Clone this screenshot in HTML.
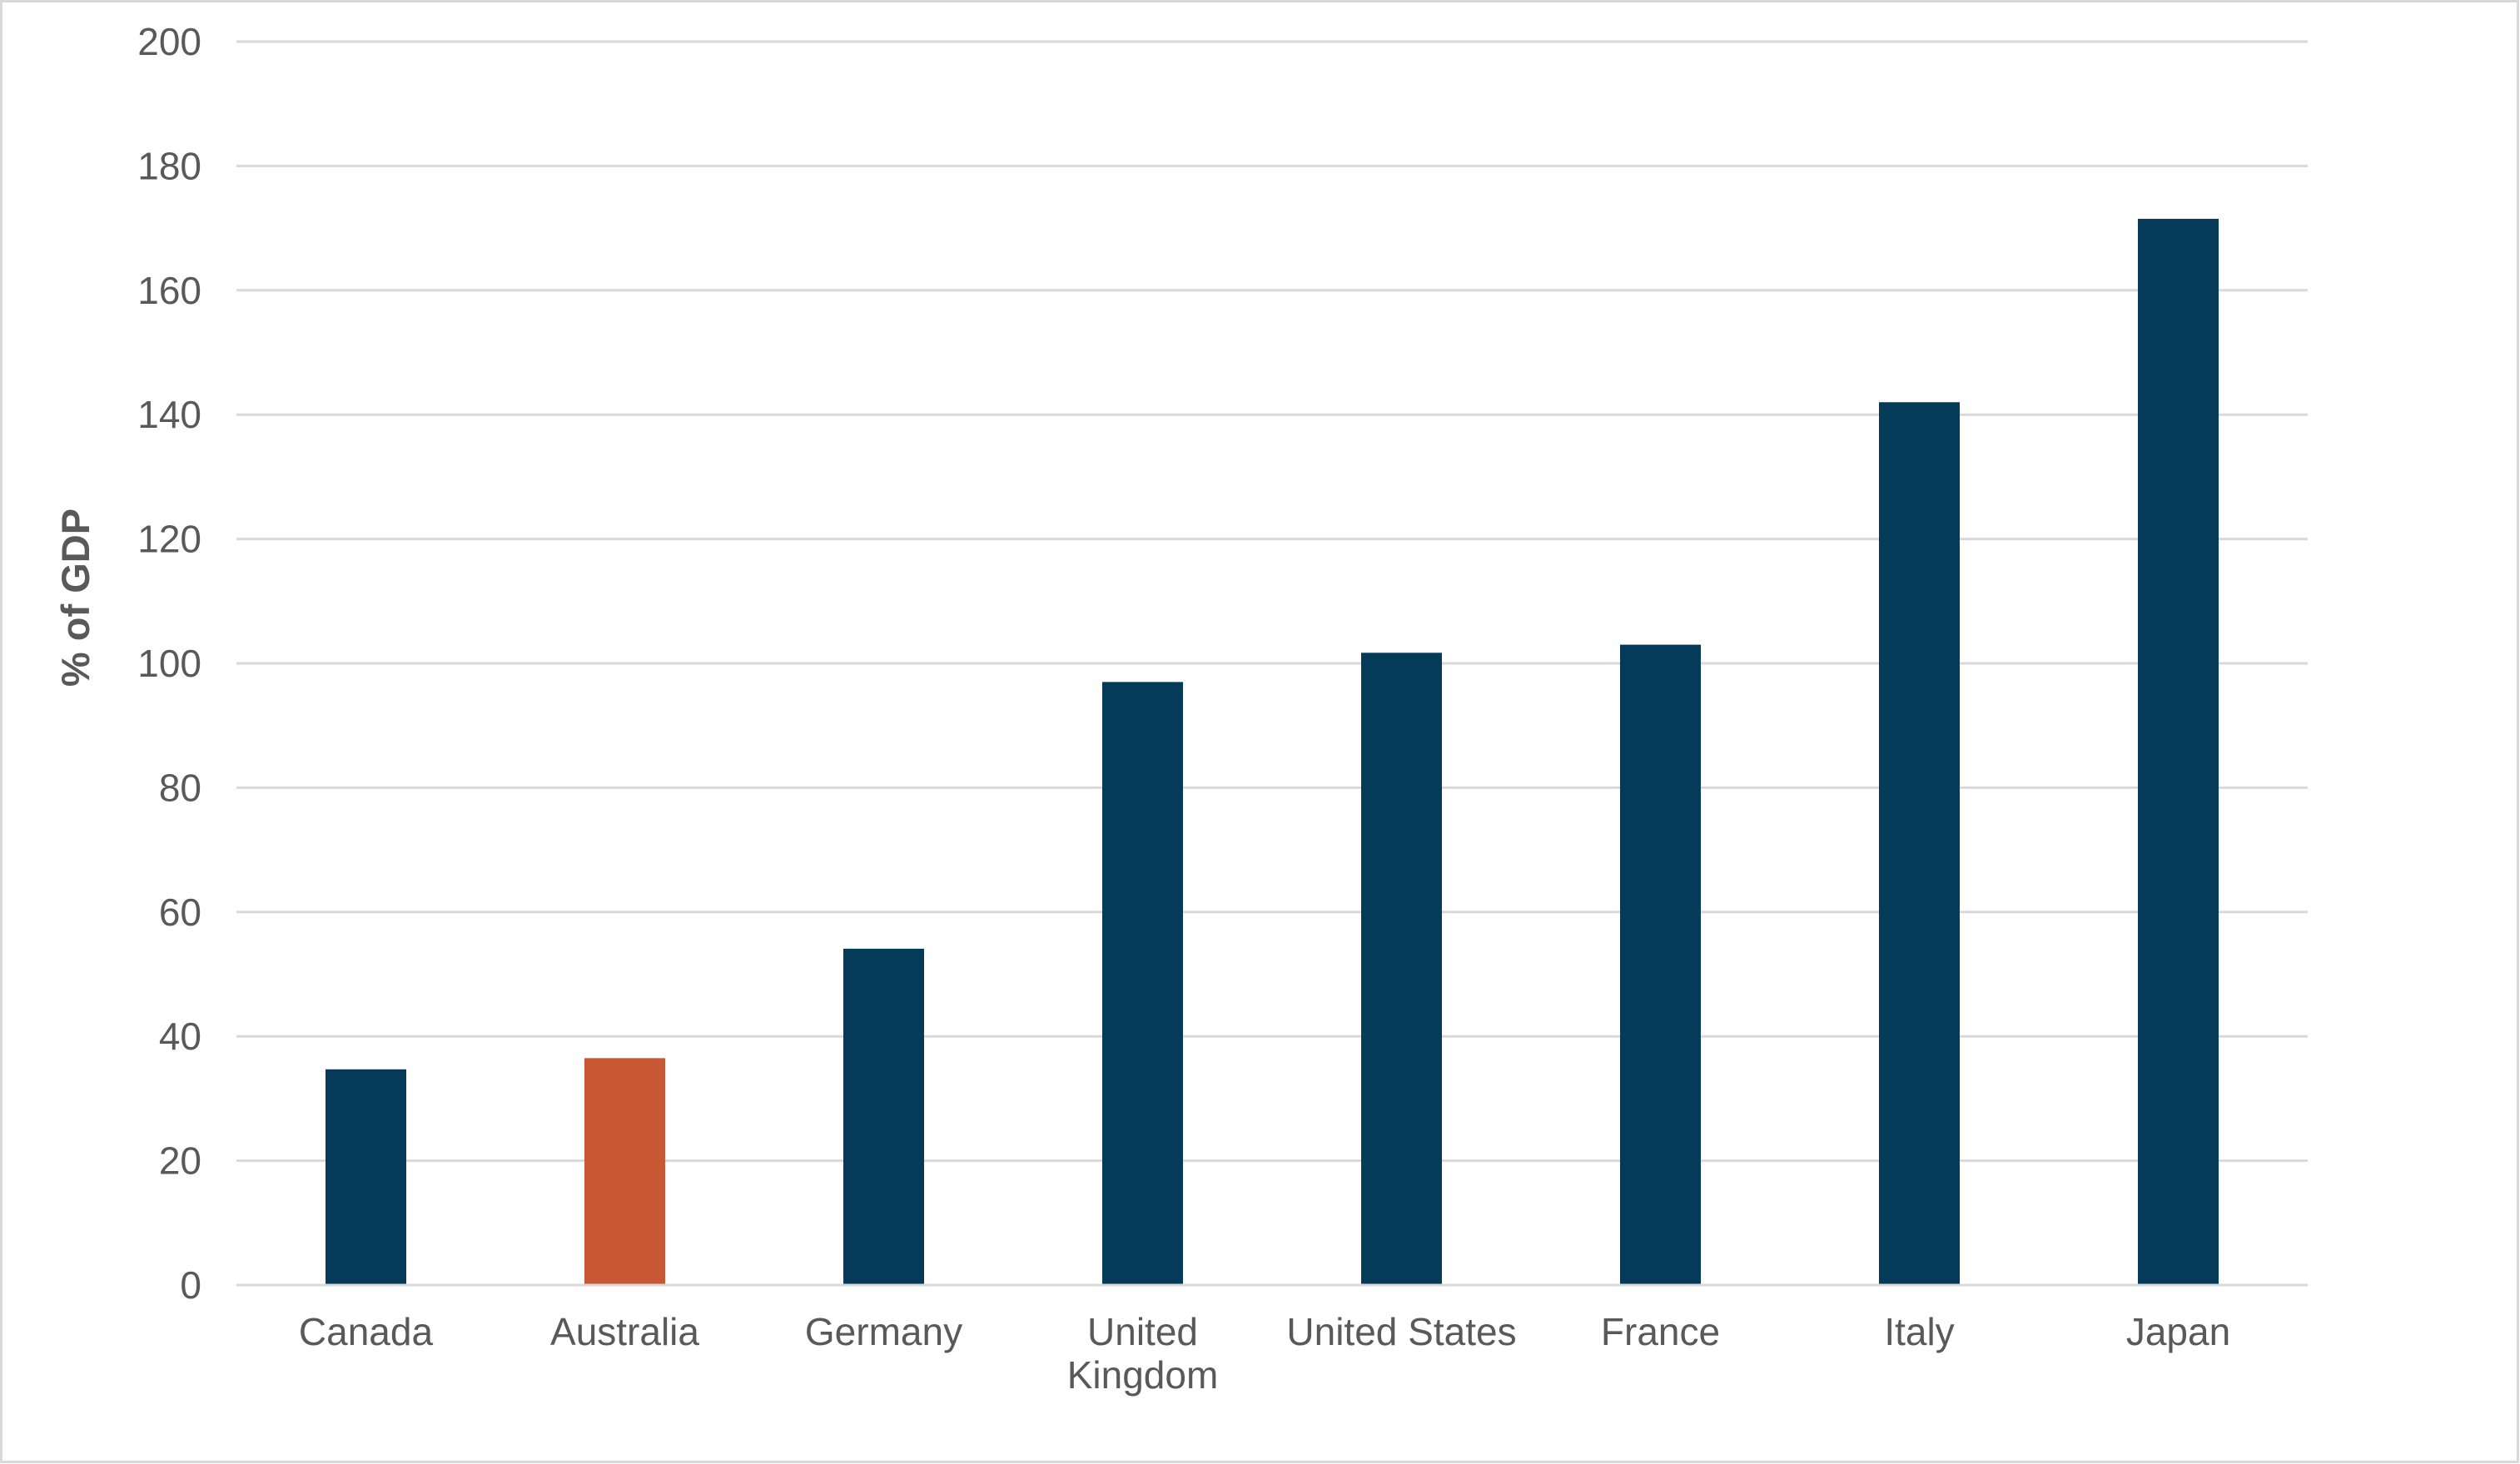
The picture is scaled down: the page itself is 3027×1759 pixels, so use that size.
<!DOCTYPE html>
<html><head><meta charset="utf-8"><style>
html,body{margin:0;padding:0;background:#fff;}
svg{display:block;}
text{font-family:"Liberation Sans",sans-serif;fill:#595959;}
</style></head><body>
<svg id="chart" width="3027" height="1759" viewBox="0 0 3027 1759" xmlns="http://www.w3.org/2000/svg">
<rect x="1.5" y="1.5" width="3023" height="1755" fill="#fff" stroke="#d9d9d9" stroke-width="3"/>
<g id="grid"></g>
<g id="yticks"></g>
<g id="bars"></g>
<g id="xlabels"></g>
<text transform="translate(107,718) rotate(-90)" text-anchor="middle" font-size="47" font-weight="bold">% of GDP</text>
</svg>
<script>
const categories = ["Canada","Australia","Germany","United Kingdom","United States","France","Italy","Japan"];
const labelLines = [["Canada"],["Australia"],["Germany"],["United","Kingdom"],["United States"],["France"],["Italy"],["Japan"]];
const values = [34.7, 36.5, 54.1, 97.0, 101.7, 103.0, 142.0, 171.5];
const highlight = [false, true, false, false, false, false, false, false];
const yTicks = [0,20,40,60,80,100,120,140,160,180,200];

const NS = "http://www.w3.org/2000/svg";
const x0 = 284, x1 = 2772, yTop = 50, yBot = 1544, yMax = 200;
const bw = (x1 - x0) / categories.length, barW = 97;
function y(v){ return yBot - (v / yMax) * (yBot - yTop); }
function xc(i){ return x0 + bw * (i + 0.5); }
function mk(tag, attrs, parent){ const e = document.createElementNS(NS, tag); for (const k in attrs) e.setAttribute(k, attrs[k]); parent.appendChild(e); return e; }

const grid = document.getElementById('grid');
const yt = document.getElementById('yticks');
yTicks.forEach(t => {
  const l = mk('line', {x1:x0, x2:x1, y1:y(t), y2:y(t), stroke:'#d9d9d9', 'stroke-width':3}, grid);
  
  
  const tx = mk('text', {x:242, y:y(t) + 16, 'text-anchor':'end', 'font-size':46}, yt);
  tx.textContent = t;
  
  
});

const bars = document.getElementById('bars');
const xl = document.getElementById('xlabels');
categories.forEach((c, i) => {
  const b = mk('rect', {x:xc(i) - barW/2, y:y(values[i]), width:barW, height:yBot - y(values[i]) - 1.5, fill: highlight[i] ? '#c85733' : '#053b58'}, bars);
  
  
  const t = mk('text', {x:xc(i), y:1616, 'text-anchor':'middle', 'font-size':46}, xl);
  
  
  labelLines[i].forEach((ln, j) => {
    const s = mk('tspan', {x:xc(i), dy: j === 0 ? 0 : 52}, t);
    s.textContent = ln;
  });
});
</script>
</body></html>
